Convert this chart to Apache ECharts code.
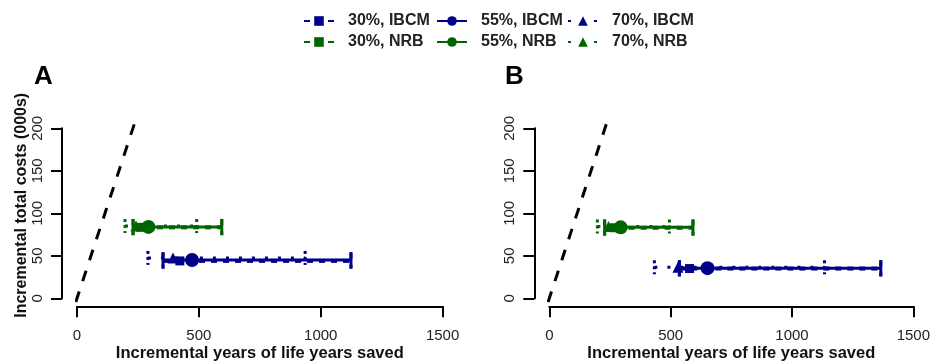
<!DOCTYPE html>
<html>
<head>
<meta charset="utf-8">
<script src="https://cdn.jsdelivr.net/npm/echarts@6/dist/echarts.min.js"></script>
<style>
html,body{margin:0;padding:0;background:#fff;}
#chart{width:933px;height:364px;}
</style>
</head>
<body>
<div id="chart"></div>
<script>
// ---- data ----
const scenarioNames = ['30%', '55%', '70%'];
const programNames = ['IBCM', 'NRB'];
const panelLabels = ['A', 'B'];
const xTicks = [0, 500, 1000, 1500];
const yTicks = [0, 50, 100, 150, 200];

// Panel A
const aIbcmMeanX = [422, 472, 394];
const aIbcmMeanY = [44, 45, 47.5];
const aIbcmLow = [353, 353, 291];
const aIbcmHigh = [1124, 1124, 936];
const aNrbMeanX = [262, 293, 242];
const aNrbMeanY = [83.5, 84, 85];
const aNrbLow = [230, 230, 197];
const aNrbHigh = [594, 594, 491];
// Panel B
const bIbcmMeanX = [578, 652, 530];
const bIbcmMeanY = [35, 35.5, 36.5];
const bIbcmLow = [536, 536, 433];
const bIbcmHigh = [1366, 1366, 1134];
const bNrbMeanX = [268, 294, 244];
const bNrbMeanY = [83, 83.5, 84.5];
const bNrbLow = [228, 228, 198];
const bNrbHigh = [592, 592, 495];
// threshold (dashed) line end points
const thresholdA = [[-5, -4.4], [242, 211]];
const thresholdB = [[-5, -4.4], [242, 211]];

// ---- styles ----
const FONT = "'Liberation Sans', Arial, sans-serif";
const colors = {IBCM: '#00008B', NRB: '#006400'};
const symbols = ['rect', 'circle', 'triangle'];
const symbolSizes = [9, 14, 11];
const lineDashes = [[6, 6], 'solid', [3, 10]];
const capDashes = [[6, 6], null, [3, 3]];
const lineWidths = [4, 3, 3];
const capHalf = [8, 8, 7];

const panels = [
  {IBCM: {mx: aIbcmMeanX, my: aIbcmMeanY, lo: aIbcmLow, hi: aIbcmHigh},
   NRB: {mx: aNrbMeanX, my: aNrbMeanY, lo: aNrbLow, hi: aNrbHigh}, thr: thresholdA},
  {IBCM: {mx: bIbcmMeanX, my: bIbcmMeanY, lo: bIbcmLow, hi: bIbcmHigh},
   NRB: {mx: bNrbMeanX, my: bNrbMeanY, lo: bNrbLow, hi: bNrbHigh}, thr: thresholdB}
];

const series = [];
panels.forEach((p, gi) => {
  series.push({
    type: 'line', xAxisIndex: gi, yAxisIndex: gi, data: p.thr, clip: false,
    showSymbol: false, symbol: 'none', silent: true, z: 1,
    lineStyle: {color: '#000', width: 3, type: [11, 11]}
  });
  programNames.forEach(prog => {
    const d = p[prog];
    scenarioNames.forEach((sc, si) => {
      const name = sc + ', ' + prog;
      const col = colors[prog];
      series.push({
        type: 'line', name, xAxisIndex: gi, yAxisIndex: gi,
        data: [[d.lo[si], d.my[si]], [d.hi[si], d.my[si]]],
        symbol: symbols[si], showSymbol: false, silent: true, z: si === 1 ? 3 : 2,
        itemStyle: {color: col},
        lineStyle: {color: col, width: lineWidths[si], type: lineDashes[si], cap: 'butt'}
      });
    });
  });
});
panels.forEach((p, gi) => {
  programNames.forEach(prog => {
    const d = p[prog];
    scenarioNames.forEach((sc, si) => {
      const name = sc + ', ' + prog;
      const col = colors[prog];
      const dash = capDashes[si];
      const h = capHalf[si];
      series.push({
        type: 'custom', name, xAxisIndex: gi, yAxisIndex: gi, silent: true, z: 3,
        data: [[d.lo[si], d.hi[si], d.my[si]]],
        encode: {x: [0, 1], y: 2},
        itemStyle: {color: col},
        renderItem: (params, api) => {
          const a = api.coord([api.value(0), api.value(2)]);
          const b = api.coord([api.value(1), api.value(2)]);
          const st = {stroke: col, lineWidth: 3, lineDash: dash};
          return {type: 'group', children: [
            {type: 'line', shape: {x1: a[0], y1: a[1] - h, x2: a[0], y2: a[1] + h}, style: st},
            {type: 'line', shape: {x1: b[0], y1: b[1] - h, x2: b[0], y2: b[1] + h}, style: st}
          ]};
        }
      });
      series.push({
        type: 'scatter', name, xAxisIndex: gi, yAxisIndex: gi, silent: true, z: 4,
        data: [[d.mx[si], d.my[si]]],
        symbol: symbols[si], symbolSize: symbolSizes[si],
        itemStyle: {color: col, opacity: 1}
      });
    });
  });
});

const gridLefts = [77, 549.3];
const grids = gridLefts.map(l => ({left: l, top: 128.3, width: 365.6, height: 170, containLabel: false}));

function xAxisFor(gi) {
  return {
    gridIndex: gi, type: 'value', min: xTicks[0], max: xTicks[xTicks.length - 1], interval: 500,
    offset: 8,
    axisLine: {show: true, onZero: false, lineStyle: {color: '#000', width: 2}},
    axisTick: {show: true, length: 11, lineStyle: {color: '#000', width: 2}},
    axisLabel: {fontSize: 15, color: '#222', fontFamily: FONT, margin: 22, formatter: v => String(v)},
    splitLine: {show: false},
    name: 'Incremental years of life years saved', nameLocation: 'middle', nameGap: 39,
    nameTextStyle: {fontSize: 16.5, fontWeight: 'bold', color: '#111', fontFamily: FONT}
  };
}
function yAxisFor(gi) {
  return {
    gridIndex: gi, type: 'value', min: yTicks[0], max: yTicks[yTicks.length - 1], interval: 50,
    offset: 15,
    axisLine: {show: true, onZero: false, lineStyle: {color: '#000', width: 2}},
    axisTick: {show: true, length: 11, lineStyle: {color: '#000', width: 2}},
    axisLabel: {fontSize: 15, color: '#222', fontFamily: FONT, margin: 17, rotate: 90, formatter: v => String(v)},
    splitLine: {show: false},
    name: gi === 0 ? 'Incremental total costs (000s)' : '', nameLocation: 'middle', nameGap: 32,
    nameRotate: 90,
    nameTextStyle: {fontSize: 16, fontWeight: 'bold', color: '#111', fontFamily: FONT, padding: [0, 0, 0, 16]}
  };
}

const legendLefts = [303, 436, 567];
const legends = scenarioNames.map((sc, si) => ({
  left: legendLefts[si], top: 13, orient: 'vertical', padding: 0, itemGap: 5,
  itemWidth: 30, itemHeight: 12, selectedMode: false,
  data: programNames.map(pr => sc + ', ' + pr),
  textStyle: {fontSize: 16, fontWeight: 'bold', color: '#222', fontFamily: FONT, lineHeight: 16, padding: [0, 0, 0, 9]}
}));

const titles = panelLabels.map((t, i) => ({
  text: t, left: i === 0 ? 34 : 505, top: 64, padding: 0,
  textStyle: {fontSize: 26, fontWeight: 'bold', color: '#000', fontFamily: FONT}
}));

const chart = echarts.init(document.getElementById('chart'), null, {renderer: 'canvas'});
chart.setOption({
  animation: false,
  backgroundColor: '#fff',
  title: titles,
  legend: legends,
  grid: grids,
  xAxis: [xAxisFor(0), xAxisFor(1)],
  yAxis: [yAxisFor(0), yAxisFor(1)],
  series
});
</script>
</body>
</html>
